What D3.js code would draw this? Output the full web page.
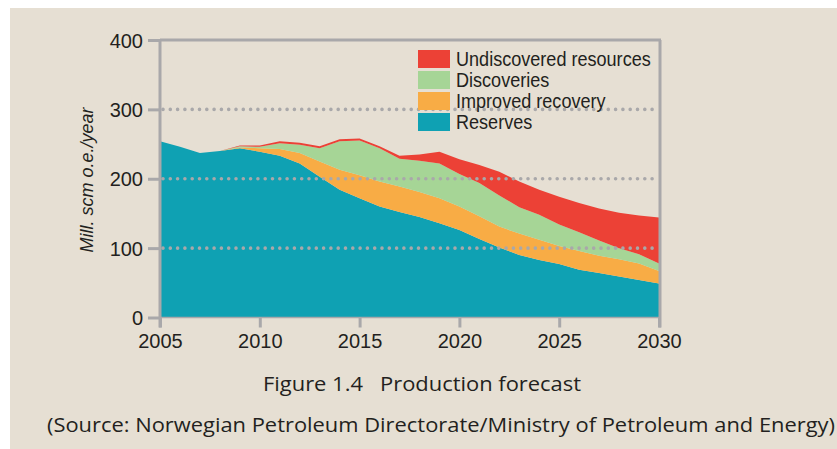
<!DOCTYPE html>
<html>
<head>
<meta charset="utf-8">
<script src="https://cdn.jsdelivr.net/npm/d3@7"></script>
<style>
  body { margin: 0; background: #fff; }
  svg { display: block; }
</style>
</head>
<body>
<div id="chart"></div>
<script>
// data (Mill. scm o.e. per year)
const years = d3.range(2005, 2031);
const reserves     = [254,246,237,240,244,239,233,222,203,184,172,160,152,145,136,126,113,101,90,83,77,69,64,59,54,49];
const improved     = [0,0,0,0,1,5,10,15,22,29,33,36,37,36,36,34,33,30,31,29,26,27,25,25,24,18];
const discoveries  = [0,0,0,0,2,2,8,12,19,41,50,48,40,45,50,47,48,45,38,36,31,27,22,16,13,11];
const undiscovered = [0,0,0,0,1,2,3,3,3,3,3,3,4,9,17,21,26,34,37,36,40,42,46,51,56,66];

const seriesKeys = ["Reserves", "Improved recovery", "Discoveries", "Undiscovered resources"];
const seriesColors = ["#0fa1b3", "#f8ac45", "#a6d596", "#ec4136"];
const yTicks = [0, 100, 200, 300, 400];
const xTicks = [2005, 2010, 2015, 2020, 2025, 2030];

const W = 837, H = 449;
const axisCol = "#a9a8aa";
const tickFont = "'Liberation Sans', Arial, sans-serif";

const svg = d3.select("#chart").append("svg")
  .attr("width", W).attr("height", H);

// beige page background
svg.append("rect").attr("x", 10).attr("y", 8).attr("width", W - 10).attr("height", H - 8)
  .attr("fill", "#e6dfd3");

const x = d3.scaleLinear().domain([2005, 2030]).range([160, 659]);
const y = d3.scaleLinear().domain([0, 400]).range([317.5, 40]);

// build the table for the stack
const table = years.map((yr, i) => ({
  year: yr,
  "Reserves": reserves[i],
  "Improved recovery": improved[i],
  "Discoveries": discoveries[i],
  "Undiscovered resources": undiscovered[i]
}));
const stacked = d3.stack().keys(seriesKeys)(table);

const area = d3.area()
  .x(d => x(d.data.year))
  .y0(d => y(d[0]))
  .y1(d => y(d[1]));

svg.append("g").selectAll("path").data(stacked).join("path")
  .attr("d", area)
  .attr("fill", (d, i) => seriesColors[i]);

// dotted gridlines on top of the areas
svg.append("g").selectAll("line").data(yTicks.filter(t => t > 0 && t < 400)).join("line")
  .attr("x1", x(2005) + 3).attr("x2", x(2030))
  .attr("y1", d => y(d)).attr("y2", d => y(d))
  .attr("stroke", axisCol).attr("stroke-width", 3.6)
  .attr("stroke-linecap", "round")
  .attr("stroke-dasharray", "0 7.3");

// frame: top and right
svg.append("line").attr("x1", x(2005)).attr("x2", x(2030) + 2)
  .attr("y1", y(400)).attr("y2", y(400))
  .attr("stroke", axisCol).attr("stroke-width", 3);
svg.append("line").attr("x1", x(2030) + 1).attr("x2", x(2030) + 1)
  .attr("y1", y(400)).attr("y2", y(0) + 10)
  .attr("stroke", axisCol).attr("stroke-width", 3);

// y axis
const yAxis = svg.append("g")
  .attr("transform", `translate(${x(2005)},0)`)
  .call(d3.axisLeft(y).tickValues(yTicks).tickSize(12).tickPadding(5).tickFormat(d3.format("d")));
yAxis.select(".domain").attr("stroke", axisCol).attr("stroke-width", 3)
  .attr("d", `M0,${y(400)}V${y(0) + 10}`);
yAxis.selectAll(".tick line").attr("stroke", axisCol).attr("stroke-width", 3);
yAxis.selectAll(".tick text").attr("fill", "#231f20")
  .style("font-family", tickFont).style("font-size", "20px").attr("dy", "0.36em");

// x axis
const xAxis = svg.append("g")
  .attr("transform", `translate(0,${y(0)})`)
  .call(d3.axisBottom(x).tickValues(xTicks).tickSize(10).tickPadding(6).tickFormat(d3.format("d")));
xAxis.select(".domain").attr("stroke", axisCol).attr("stroke-width", 1.5)
  .attr("d", `M${x(2005)},0H${x(2030)}`);
xAxis.selectAll(".tick line").attr("stroke", axisCol).attr("stroke-width", 3);
xAxis.selectAll(".tick text").attr("fill", "#231f20")
  .style("font-family", tickFont).style("font-size", "20px");

// y axis title
svg.append("text")
  .attr("transform", `translate(93,180) rotate(-90)`)
  .attr("text-anchor", "middle")
  .attr("fill", "#231f20")
  .style("font-family", tickFont).style("font-style", "italic").style("font-size", "18px")
  .attr("textLength", 145).attr("lengthAdjust", "spacingAndGlyphs")
  .text("Mill. scm o.e./year");

// legend (top to bottom: reversed stack order)
const legendKeys = seriesKeys.slice().reverse();
const legendColors = seriesColors.slice().reverse();
const legend = svg.append("g").attr("transform", "translate(418,50)");
const rows = legend.selectAll("g").data(legendKeys).join("g")
  .attr("transform", (d, i) => `translate(0,${i * 21})`);
rows.append("rect").attr("width", 32).attr("height", 18)
  .attr("fill", (d, i) => legendColors[i]);
rows.append("text").attr("x", 38).attr("y", 16)
  .attr("fill", "#231f20")
  .style("font-family", tickFont).style("font-size", "21px")
  .text(d => d)
  .each(function () {
    // the original type is a condensed face: squeeze horizontally
    const w = this.getComputedTextLength();
    d3.select(this).attr("textLength", w * 0.86).attr("lengthAdjust", "spacingAndGlyphs");
  });

// caption
const capFont = "'Open Sans', 'Noto Sans', sans-serif";
svg.append("text").attr("x", 422).attr("y", 391).attr("text-anchor", "middle")
  .attr("fill", "#231f20").style("font-family", capFont).style("font-size", "20px")
  .style("white-space", "pre")
  .attr("textLength", 318).attr("lengthAdjust", "spacingAndGlyphs")
  .text("Figure 1.4   Production forecast");
svg.append("text").attr("x", 441).attr("y", 432).attr("text-anchor", "middle")
  .attr("fill", "#231f20").style("font-family", capFont).style("font-size", "20px")
  .attr("textLength", 788).attr("lengthAdjust", "spacingAndGlyphs")
  .text("(Source: Norwegian Petroleum Directorate/Ministry of Petroleum and Energy)");
</script>
</body>
</html>
